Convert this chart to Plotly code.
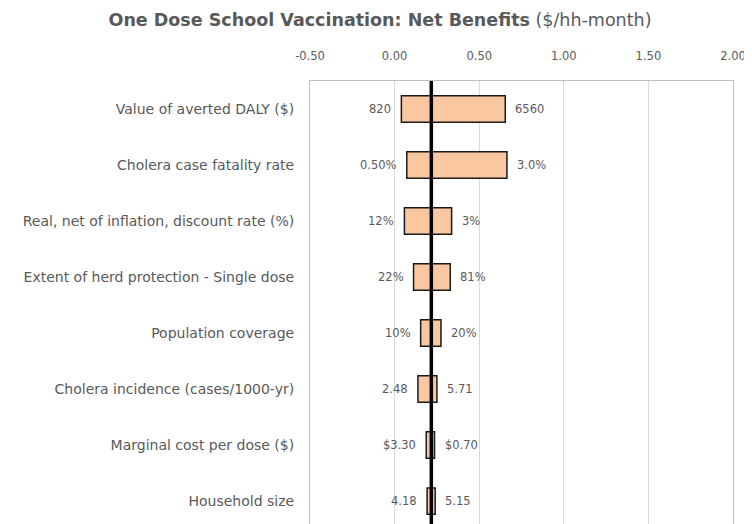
import plotly.graph_objects as go

categories = [
    "Value of averted DALY ($)",
    "Cholera case fatality rate",
    "Real, net of inflation, discount rate (%)",
    "Extent of herd protection - Single dose",
    "Population coverage",
    "Cholera incidence (cases/1000-yr)",
    "Marginal cost per dose ($)",
    "Household size",
]
low_values = [0.040, 0.072, 0.058, 0.112, 0.154, 0.138, 0.187, 0.192]
high_values = [0.654, 0.664, 0.337, 0.329, 0.274, 0.250, 0.236, 0.240]
low_labels = ["820", "0.50%", "12%", "22%", "10%", "2.48", "$3.30", "4.18"]
high_labels = ["6560", "3.0%", "3%", "81%", "20%", "5.71", "$0.70", "5.15"]
base_value = 0.217

tick_vals = [-0.5, 0.0, 0.5, 1.0, 1.5, 2.0]
tick_labels = ["-0.50", "0.00", "0.50", "1.00", "1.50", "2.00"]

GREY = "#595959"
FONT = "DejaVu Sans"

widths = [h - l for l, h in zip(low_values, high_values)]

fig = go.Figure()
fig.add_trace(go.Bar(
    y=categories, x=widths, base=low_values, orientation="h",
    width=0.47,
    marker=dict(color="#F9C7A0", line=dict(color="#1a1a1a", width=1.5)),
    hoverinfo="skip", showlegend=False,
))

annotations = []
for cat, lo, hi, lt, ht in zip(categories, low_values, high_values, low_labels, high_labels):
    annotations.append(dict(x=lo, y=cat, xref="x", yref="y", text=lt,
                            showarrow=False, xanchor="right", xshift=-8,
                            font=dict(family=FONT, size=11.5, color=GREY)))
    annotations.append(dict(x=hi, y=cat, xref="x", yref="y", text=ht,
                            showarrow=False, xanchor="left", xshift=8,
                            font=dict(family=FONT, size=11.5, color=GREY)))

fig.add_shape(type="line", xref="x", yref="paper",
              x0=base_value, x1=base_value, y0=0, y1=1,
              line=dict(color="black", width=3.5), layer="above")

fig.update_layout(
    width=744, height=516,
    paper_bgcolor="white", plot_bgcolor="white",
    margin=dict(l=302, r=19, t=73, b=0, autoexpand=False),
    annotations=annotations,
    title=dict(
        text="<b>One Dose School Vaccination: Net Benefits</b> ($/hh-month)",
        x=0.5, xanchor="center", y=1 - 12 / 516, yanchor="middle",
        font=dict(family="DejaVu Sans", size=17.5, color=GREY),
    ),
    font=dict(family=FONT, color=GREY),
    xaxis=dict(
        side="top", range=[-0.5, 2.0], tickvals=tick_vals, ticktext=tick_labels,
        showgrid=True, gridcolor="#D9D9D9", gridwidth=1,
        zeroline=False, showline=True, linecolor="#BFBFBF", linewidth=1,
        ticks="", ticklabelstandoff=15,
        tickfont=dict(family=FONT, size=11.5, color=GREY),
        fixedrange=True,
    ),
    yaxis=dict(
        type="category", categoryorder="array", categoryarray=categories,
        range=[7.41, -0.5],
        showgrid=False, zeroline=False,
        showline=True, mirror=True, linecolor="#BFBFBF", linewidth=1,
        ticks="", ticklabelstandoff=12,
        tickfont=dict(family=FONT, size=14, color=GREY),
        fixedrange=True,
    ),
)

fig.write_html("out.html")
